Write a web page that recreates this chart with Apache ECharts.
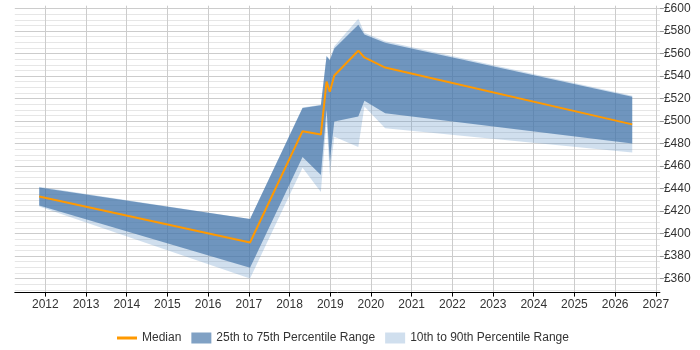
<!DOCTYPE html>
<html>
<head>
<meta charset="utf-8">
<script src="https://cdn.jsdelivr.net/npm/echarts@6/dist/echarts.min.js"></script>
<style>
  html, body { margin: 0; padding: 0; background: #fff; }
  #chart { width: 700px; height: 350px; }
</style>
</head>
<body>
<div id="chart"></div>
<script>
// points along the time axis (fractional years)
const years = [2011.85, 2017.03, 2018.32, 2018.77, 2018.91, 2018.99, 2019.10, 2019.69, 2019.84, 2020.35, 2026.42]
const median = [433, 392, 491, 488, 535, 526, 540.5, 562.5, 556.5, 547.5, 497]
const p25 = [425, 369.5, 468, 452, 510, 464, 499.5, 504, 518, 507, 480]
const p75 = [441, 413, 511.5, 514, 557.5, 554, 564.5, 585.5, 577, 569.5, 521.5]
const p10 = [424, 360, 458.5, 437, 500, 452, 486, 477, 513, 493.5, 472]
const p90 = [441.5, 413, 512, 514.5, 558, 555, 566.5, 591, 578.5, 571, 522.5]

// tick labels
const yearTicks = [2012, 2013, 2014, 2015, 2016, 2017, 2018, 2019, 2020, 2021, 2022, 2023, 2024, 2025, 2026, 2027]
const salaryTicks = [360, 380, 400, 420, 440, 460, 480, 500, 520, 540, 560, 580, 600]

const X_MIN = 2011.25, X_MAX = 2027.1
const Y_MIN = 347.5, Y_MAX = 602.5

const FONT = 'Liberation Sans, Arial, sans-serif'
const NONE = 'rgba(0,0,0,0)'
const MINOR = '#e6e6e6'
const MAJOR = '#cccccc'
const LIGHT = 'rgba(100,150,200,0.3)'
const DARK = 'rgba(60,110,165,0.65)'

const chart = echarts.init(document.getElementById('chart'), null, { renderer: 'canvas' })

// filled band between two percentile lines, drawn as one polygon
function band(name, lo, hi, color, z) {
  return {
    type: 'custom',
    name: name,
    z: z,
    silent: true,
    data: years.map((x, i) => [x, lo[i], hi[i]]),
    encode: { x: 0, y: [1, 2] },
    itemStyle: { color: color },
    renderItem: (params, api) => {
      if (params.dataIndex !== 0) return null
      const top = years.map((x, i) => api.coord([x, hi[i]]))
      const bottom = years.map((x, i) => api.coord([x, lo[i]])).reverse()
      return {
        type: 'polygon',
        shape: { points: top.concat(bottom) },
        style: { fill: color },
      }
    },
  }
}

chart.setOption({
  animation: false,
  textStyle: { fontFamily: FONT },
  grid: { left: 14.8, right: 40.1, top: 5.7, bottom: 57.4, containLabel: false },
  xAxis: [
    {
      // grid lines only: one line per quarter, only whole years coloured
      type: 'value',
      min: X_MIN,
      max: X_MAX,
      interval: 0.25,
      axisLine: { show: true, onZero: false, lineStyle: { color: '#000', width: 1 } },
      axisTick: { show: false },
      axisLabel: { show: false },
      splitLine: { show: true, lineStyle: { color: [NONE, NONE, NONE, MAJOR], width: 1 } },
    },
    {
      type: 'value',
      position: 'bottom',
      min: X_MIN,
      max: X_MAX,
      axisLine: { show: false },
      axisTick: { show: true, customValues: yearTicks, length: 4, lineStyle: { color: '#000' } },
      axisLabel: {
        show: true,
        customValues: yearTicks,
        formatter: (v) => String(v),
        color: '#333',
        fontSize: 12,
        fontFamily: FONT,
        margin: 6,
      },
      splitLine: { show: false },
    },
  ],
  yAxis: [
    {
      type: 'value',
      position: 'right',
      min: Y_MIN,
      max: Y_MAX,
      interval: 2.5,
      axisLine: { show: false },
      axisTick: { show: false },
      axisLabel: { show: false },
      splitLine: {
        show: true,
        lineStyle: { color: [NONE, MINOR, NONE, MINOR, NONE, MAJOR, NONE, MINOR], width: 1 },
      },
    },
    {
      type: 'value',
      position: 'right',
      min: Y_MIN,
      max: Y_MAX,
      axisLine: { show: false },
      axisTick: { show: true, customValues: salaryTicks, length: 4, lineStyle: { color: '#999' } },
      axisLabel: {
        show: true,
        customValues: salaryTicks,
        formatter: (v) => '£' + v,
        color: '#333',
        fontSize: 12,
        fontFamily: FONT,
        margin: 4,
      },
      splitLine: { show: false },
    },
  ],
  legend: {
    left: 112,
    top: 327,
    itemWidth: 20,
    itemHeight: 11,
    itemGap: 10,
    textStyle: { color: '#333', fontSize: 12, fontFamily: FONT },
    data: [
      { name: 'Median', icon: 'path://M0,0H20V3H0Z' },
      { name: '25th to 75th Percentile Range', icon: 'rect' },
      { name: '10th to 90th Percentile Range', icon: 'rect' },
    ],
  },
  series: [
    band('10th to 90th Percentile Range', p10, p90, LIGHT, 1),
    band('25th to 75th Percentile Range', p25, p75, DARK, 2),
    {
      type: 'line',
      name: 'Median',
      data: years.map((x, i) => [x, median[i]]),
      symbol: 'none',
      z: 3,
      itemStyle: { color: '#ff9900' },
      lineStyle: { color: '#ff9900', width: 2 },
    },
  ],
})
</script>
</body>
</html>
